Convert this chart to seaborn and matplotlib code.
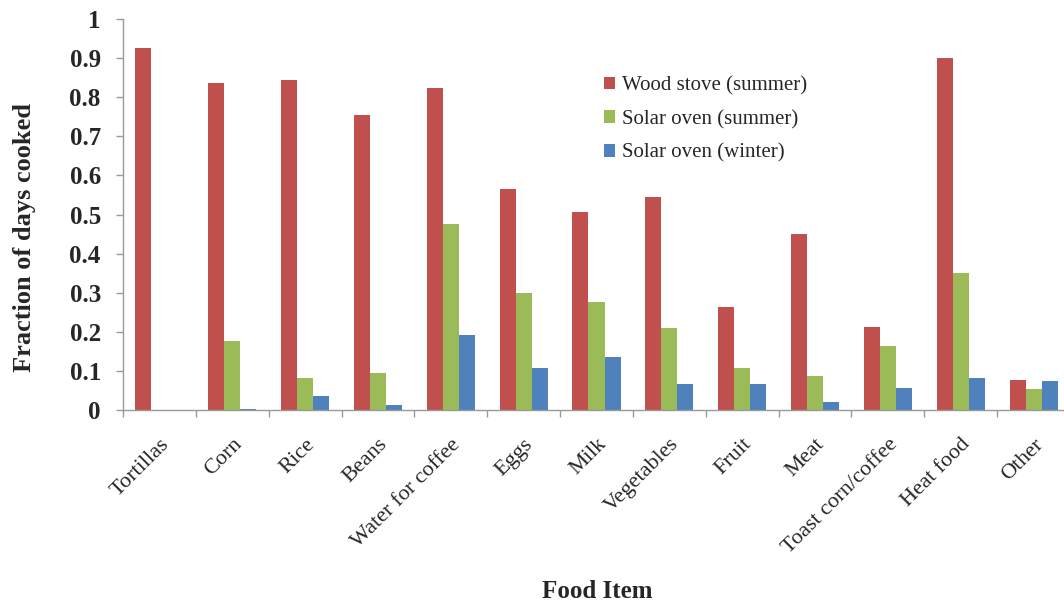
import matplotlib
matplotlib.use("Agg")
import matplotlib.pyplot as plt
import matplotlib.transforms as mtransforms
import seaborn as sns
import numpy as np
import pandas as pd

categories = ["Tortillas", "Corn", "Rice", "Beans", "Water for coffee", "Eggs", "Milk",
              "Vegetables", "Fruit", "Meat", "Toast corn/coffee", "Heat food", "Other"]
wood_summer = [0.926, 0.837, 0.845, 0.754, 0.824, 0.566, 0.506, 0.546, 0.264, 0.449, 0.211, 0.899, 0.076]
solar_summer = [0.0, 0.177, 0.083, 0.095, 0.476, 0.300, 0.277, 0.209, 0.107, 0.088, 0.164, 0.351, 0.053]
solar_winter = [0.0, 0.003, 0.037, 0.014, 0.192, 0.107, 0.136, 0.066, 0.066, 0.021, 0.055, 0.081, 0.074]
series_names = ["Wood stove (summer)", "Solar oven (summer)", "Solar oven (winter)"]
yticks = [0, 0.1, 0.2, 0.3, 0.4, 0.5, 0.6, 0.7, 0.8, 0.9, 1.0]
ytick_labels = ["0", "0.1", "0.2", "0.3", "0.4", "0.5", "0.6", "0.7", "0.8", "0.9", "1"]

rows = []
for name, vals in zip(series_names, [wood_summer, solar_summer, solar_winter]):
    for c, v in zip(categories, vals):
        rows.append({"Food": c, "Series": name, "Value": v})
df = pd.DataFrame(rows)

sns.set_theme(style="white")
plt.rcParams['font.family'] = ['Liberation Serif', 'DejaVu Serif']

fig = plt.figure(figsize=(10.64, 6.02), dpi=100)
ax = fig.add_axes([123/1064, 192/602, 947/1064, 391/602])

colors = ["#C0504D", "#9BBB59", "#4F81BD"]
sns.barplot(data=df, x="Food", y="Value", hue="Series", order=categories,
            hue_order=series_names, palette=colors, width=0.66, gap=0,
            saturation=1, ax=ax, errorbar=None, linewidth=0)

ax.set_xlim(-0.5, len(categories) - 0.5)
ax.set_ylim(0, 1)
ax.set_yticks(yticks)
ax.set_yticklabels(ytick_labels, fontsize=18, fontweight="bold")
ax.set_xticks(range(len(categories)))
ax.set_xticklabels(categories, fontsize=16, rotation=45, ha="right", rotation_mode="anchor")
shift = mtransforms.ScaledTranslation(-9/100, 0, fig.dpi_scale_trans)
for lbl in ax.get_xticklabels():
    lbl.set_transform(lbl.get_transform() + shift)
ax.set_xticks(np.arange(-0.5, len(categories), 1), minor=True)
ax.tick_params(axis="x", which="major", length=0, pad=18)
ax.tick_params(axis="x", which="minor", length=5, color="#999999", width=1, direction="out", bottom=True)
ax.tick_params(axis="y", length=5, color="#999999", width=1, direction="out", left=True, pad=11)
for s in ["top", "right"]:
    ax.spines[s].set_visible(False)
for s in ["left", "bottom"]:
    ax.spines[s].set_color("#999999")
    ax.spines[s].set_linewidth(1)
ax.set_xlabel("")
ax.set_ylabel("")

fig.text(25/1064, 1 - 238/602, "Fraction of days cooked", rotation=90, ha="center", va="center",
         fontsize=19, fontweight="bold")
fig.text(597/1064, 1 - 592/602, "Food Item", ha="center", va="center",
         fontsize=18, fontweight="bold")

leg = ax.legend(loc="upper left", bbox_to_anchor=(604/1064, 1 - 76/602), bbox_transform=fig.transFigure,
                frameon=False, fontsize=15, handlelength=0.55, handleheight=0.55,
                handletextpad=0.3, labelspacing=0.7, borderaxespad=0, borderpad=0)

fig.savefig("out.png", dpi=100)
